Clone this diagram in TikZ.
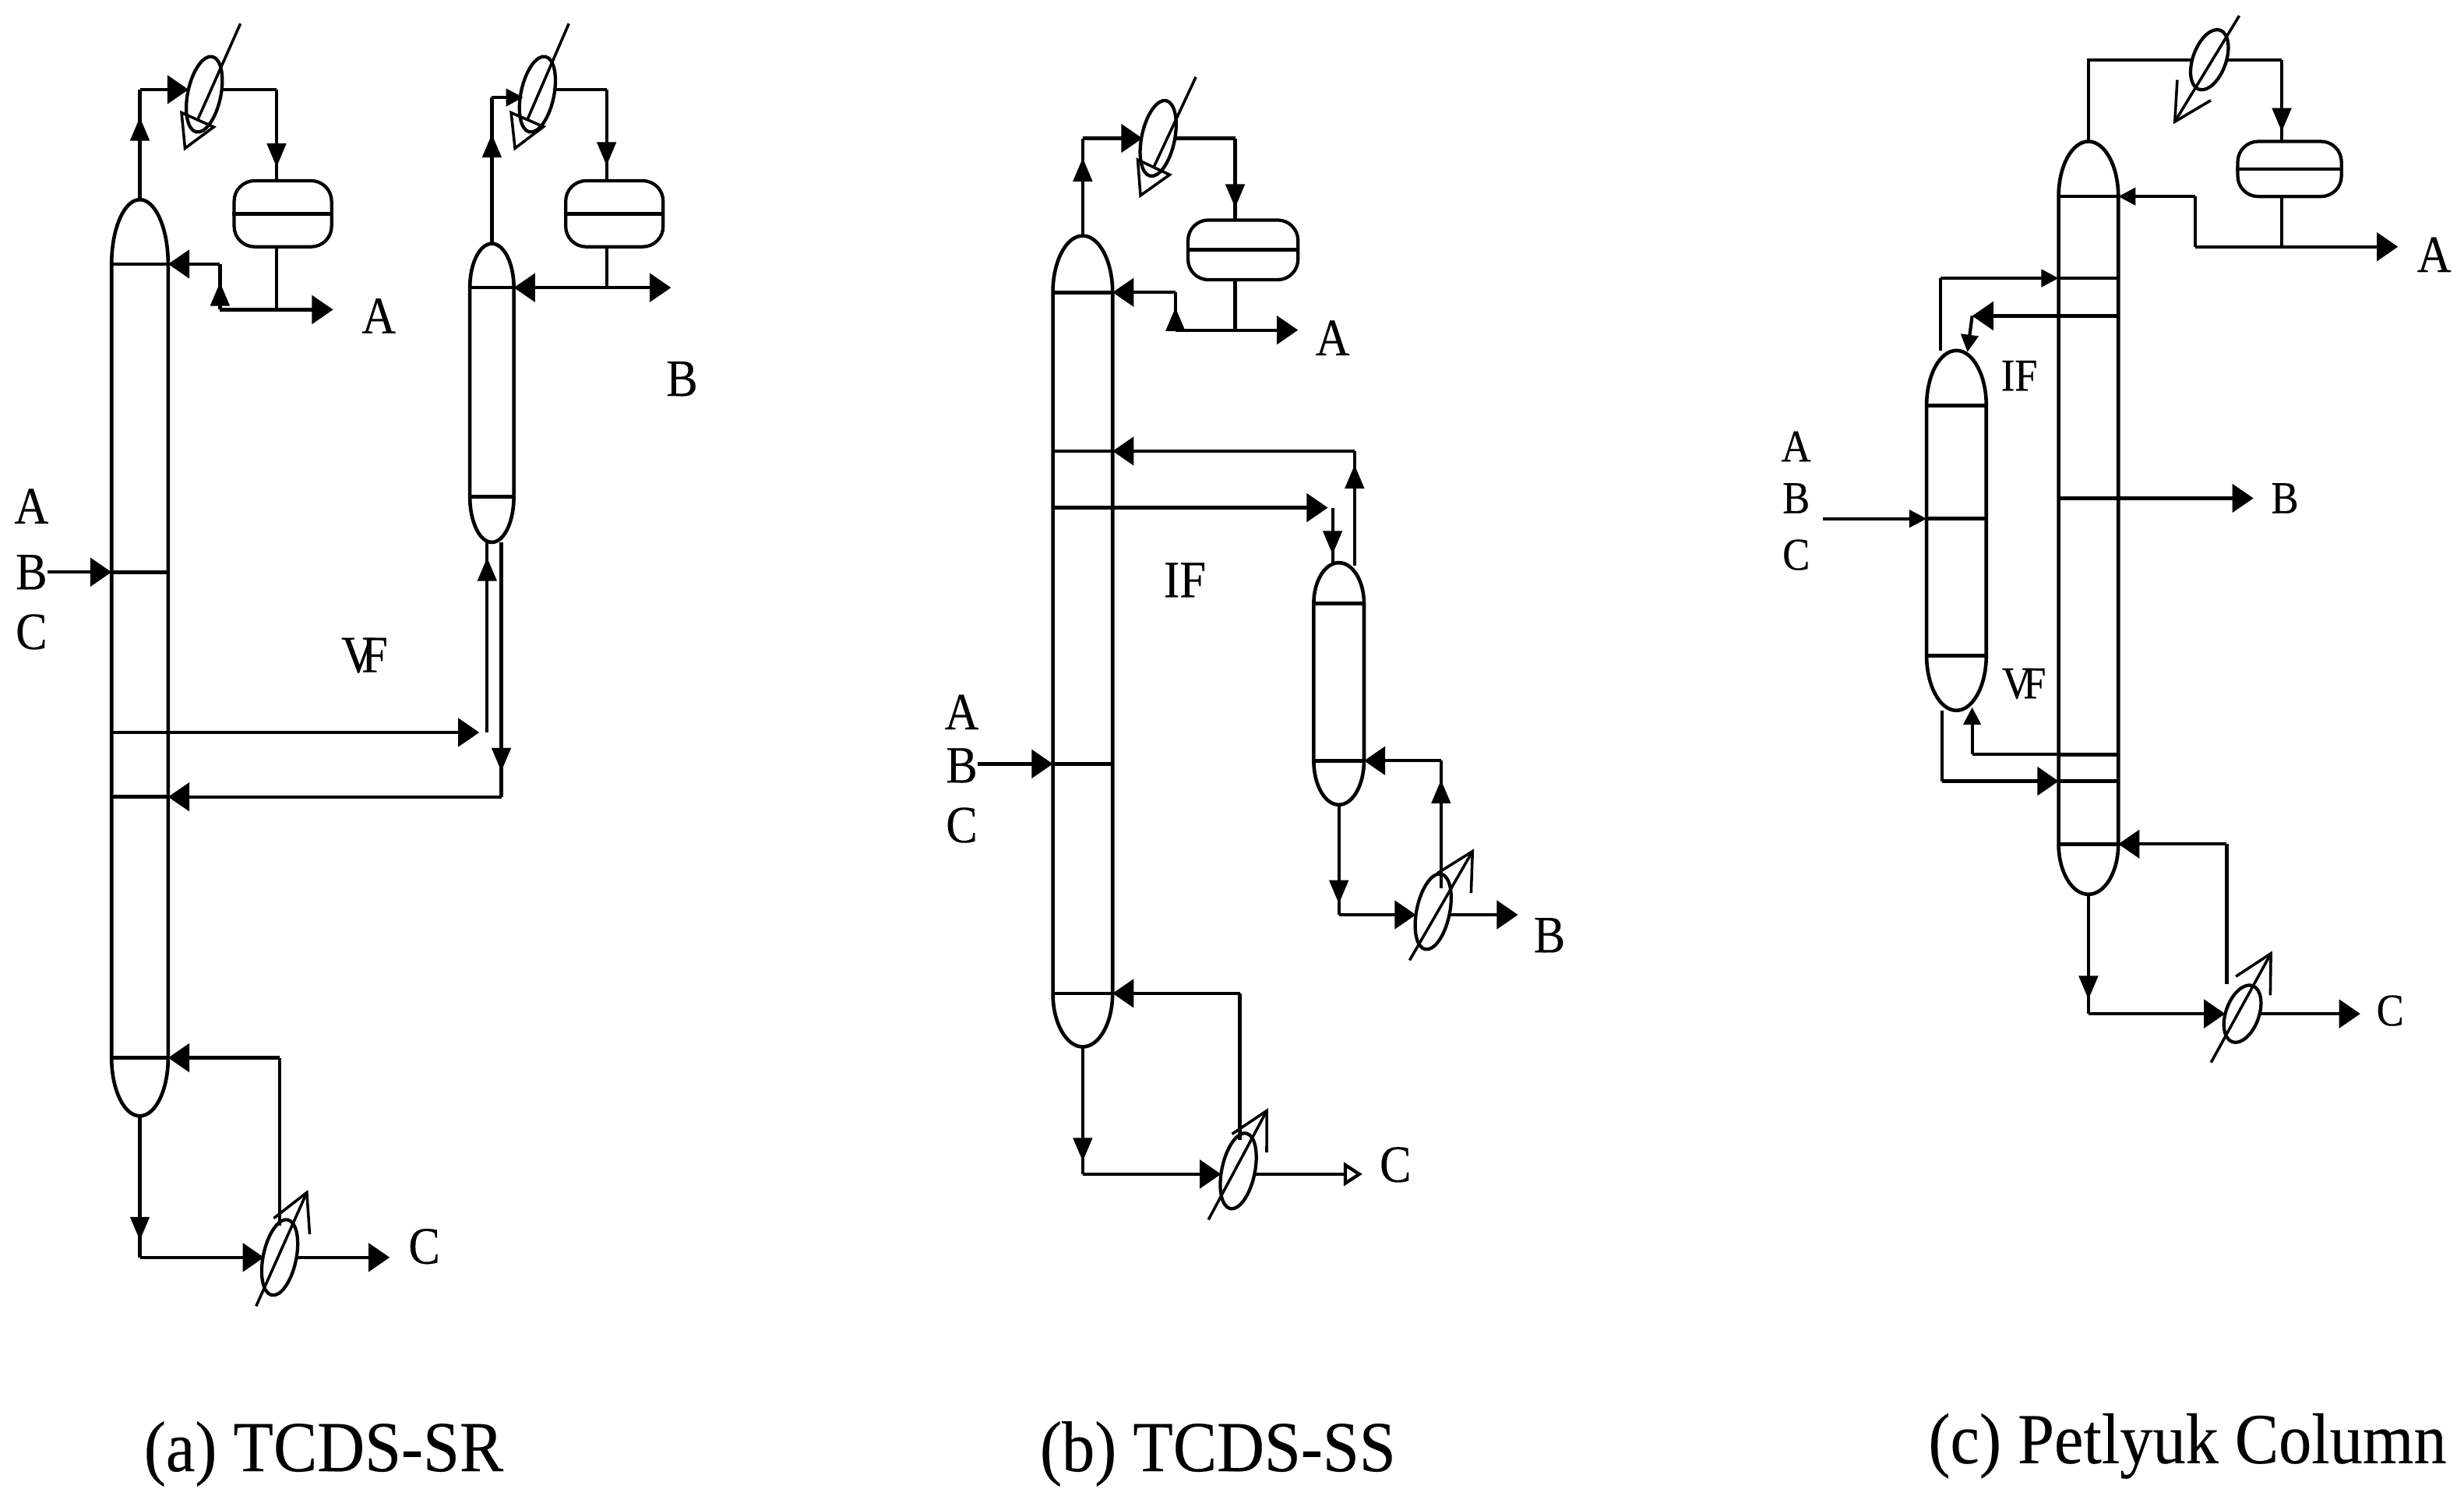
\documentclass[tikz,border=0pt]{standalone}
\usepackage{fontspec}
\setmainfont{Liberation Serif}
\newfontfamily\labfont[FakeStretch=0.9,FakeBold=0.25]{Liberation Serif}
\newfontfamily\capfont[FakeStretch=0.915,FakeBold=0.2]{Liberation Serif}
\usetikzlibrary{arrows.meta,decorations.markings,shapes.geometric}
\tikzset{
  pipe/.style={line width=1.2pt,line join=miter},
  flow/.style={pipe,-{Triangle[length=0.27cm,width=0.36cm]}},
  smallflow/.style={pipe,-{Triangle[length=0.22cm,width=0.22cm]}},
  midflow/.style={pipe,postaction={decorate},decoration={markings,mark=at position #1 with {\arrow{Triangle[length=0.3cm,width=0.24cm]}}}},
  vessel/.style={line width=1.3pt},
  tray/.style={line width=1.3pt},
  exch/.style={draw,ellipse,line width=1.2pt,minimum width=0.42cm,minimum height=0.98cm,inner sep=0pt,rotate=-12},
  drumbox/.style={draw,rectangle,rounded corners=0.26cm,line width=1.2pt,inner sep=0pt},
  slashin/.style={line width=1pt,-{Triangle[open,length=0.45cm,width=0.5cm,line width=1pt]}},
  slashup/.style={line width=1pt,-{Straight Barb[length=0.47cm,width=0.5cm,line width=1pt]}},
  lab/.style={font=\labfont\fontsize{19}{19}\selectfont,inner sep=0pt},
  labs/.style={font=\labfont\fontsize{16.5}{16.5}\selectfont,inner sep=0pt},
  captext/.style={font=\capfont\fontsize{26}{26}\selectfont,inner sep=0pt},
}
% column: name, cx, half width, top, top line, bottom line, bottom
\newcommand{\Col}[7]{%
  \pgfmathsetmacro\myleft{#2-#3}\pgfmathsetmacro\myright{#2+#3}%
  \pgfmathsetmacro\mytop{(#5-#4)*0.02}\pgfmathsetmacro\mybot{(#7-#6)*0.02}\pgfmathsetmacro\mywd{#3*0.02}%
  \coordinate (#1L) at (\myleft,#5);\coordinate (#1R) at (\myright,#5);
  \coordinate (#1t) at (#2,#4);\coordinate (#1b) at (#2,#7);
  \draw[vessel] (\myleft,#5) arc[start angle=180,end angle=0,x radius=\mywd cm,y radius=\mytop cm]
    -- (\myright,#6) arc[start angle=0,end angle=-180,x radius=\mywd cm,y radius=\mybot cm] -- cycle;
}
% tray: column, tag, y
\newcommand{\Tray}[3]{%
  \coordinate (#1#2L) at (#1L |- 0,#3);\coordinate (#1#2R) at (#1R |- 0,#3);
  \draw[tray] (#1#2L) -- (#1#2R);
}
% drum: name, x1, x2, y1, y2
\newcommand{\Drum}[5]{%
  \pgfmathsetmacro\mydw{(#3-#2)*0.02}\pgfmathsetmacro\mydh{(#5-#4)*0.02}%
  \node[drumbox,minimum width=\mydw cm,minimum height=\mydh cm] (#1) at ({(#2+#3)/2},{(#4+#5)/2}) {};
  \draw[tray] (#1.west) -- (#1.east);
}
\newcommand{\Pt}[3]{\coordinate (#1) at (#2,#3);}
\begin{document}
\begin{tikzpicture}[x=0.02cm,y=-0.02cm]
\useasboundingbox (0,0) rectangle (1568,947);
\fill[white] (0,0) rectangle (1568,947);

%% ---------------- (a) TCDS-SR
\Col{aa}{89}{18}{127}{168}{673}{710}
\Tray{aa}{top}{168}\Tray{aa}{feed}{364}\Tray{aa}{vs}{466}\Tray{aa}{lr}{507}\Tray{aa}{bot}{673}
\Col{ab}{313}{14}{155}{183}{316}{345}
\Tray{ab}{top}{183}\Tray{ab}{bot}{316}
\Drum{adr}{149}{211}{115}{157}
\Drum{bdr}{360}{422}{115}{157}
\node[exch] (acd) at (130,60) {};
\node[exch] (bcd) at (342,60) {};
\node[exch] (arb) at (178,800) {};
\Pt{a1}{89}{57}\Pt{a2}{120}{57}\Pt{a3}{141}{57}\Pt{a4}{176}{57}\Pt{a5}{176}{115}
\Pt{a6}{176}{157}\Pt{a7}{176}{197}\Pt{a8}{140}{197}\Pt{a9}{212}{197}\Pt{a10}{140}{168}
\Pt{as1}{153}{15}\Pt{as2}{117}{96}
\draw[midflow=0.75] (aat) -- (a1);
\draw[flow] (a1) -- (a2);
\draw[pipe] (a3) -- (a4);
\draw[midflow=0.85] (a4) -- (a5);
\draw[pipe] (a6) -- (a7);
\draw[flow] (a8) -- (a9);
\draw[midflow=0.6] (a8) -- (a10);
\draw[flow] (a10) -- (aatopR);
\draw[slashin] (as1) -- (as2);
\node[lab] (lA1) at (241,201) {A};
\Pt{b1}{313}{62}\Pt{b2}{333}{62}\Pt{b3}{352}{57}\Pt{b4}{386}{57}
\Pt{b6}{386}{157}\Pt{b7}{386}{183}\Pt{b9}{427}{183}
\Pt{bs1}{362}{15}\Pt{bs2}{327}{96}
\draw[midflow=0.75] (abt) -- (b1);
\draw[smallflow] (b1) -- (b2);
\draw[pipe] (b3) -- (b4);
\draw[midflow=0.85] (b4) -- (b4 |- bdr.north);
\draw[pipe] (b6) -- (b7);
\draw[flow] (b7) -- (abtopR);
\draw[flow] (b7) -- (b9);
\draw[slashin] (bs1) -- (bs2);
\node[lab] (lB1) at (434,241) {B};
\node[lab] (lFa) at (20,322) {A};
\node[lab] (lFb) at (20,364) {B};
\node[lab] (lFc) at (20,402) {C};
\draw[flow] (aafeedL -| lFb.east) -- (aafeedL);
\Pt{v1}{310}{466}\Pt{v2}{310}{345}\Pt{v3}{319}{345}\Pt{v4}{319}{507}
\draw[flow] (aavsR) -- (305,466);
\draw[midflow=0.92] (v1) -- (v2);
\draw[midflow=0.9] (v3) -- (v4);
\draw[flow] (v4) -- (aalrR);
\node[lab] (lVa) at (232,417) {V\kern-5pt F};
\Pt{r1}{178}{780}\Pt{r2}{178}{673}\Pt{r3}{89}{800}\Pt{r4}{168}{800}\Pt{r5}{188}{800}\Pt{r6}{248}{800}
\Pt{rs1}{163}{831}\Pt{rs2}{196}{757}
\draw[pipe] (r1) -- (r2);
\draw[flow] (r2) -- (aabotR);
\draw[midflow=0.88] (aab) -- (r3);
\draw[flow] (r3) -- (r4);
\draw[flow] (r5) -- (r6);
\draw[slashup] (rs1) -- (rs2);
\node[lab] (lCa) at (270,793) {C};
\node[captext] (capa) at (206,925) {(a) TCDS-SR};

%% ---------------- (b) TCDS-SS
\Col{ba}{689}{19}{150}{186}{632}{666}
\Tray{ba}{top}{186}\Tray{ba}{ret}{287}\Tray{ba}{sd}{323}\Tray{ba}{feed}{486}\Tray{ba}{bot}{632}
\Col{bb}{852}{16}{358}{384}{484}{512}
\Tray{bb}{top}{384}\Tray{bb}{bot}{484}
\Drum{cdr}{756}{826}{140}{178}
\node[exch] (ccd) at (737,88) {};
\node[exch] (crb) at (912,580) {};
\node[exch] (drb) at (788,745) {};
\Pt{c1}{689}{88}\Pt{c2}{727}{88}\Pt{c3}{748}{88}\Pt{c4}{786}{88}\Pt{c5}{786}{140}
\Pt{c6}{786}{178}\Pt{c7}{786}{210}\Pt{c8}{748}{210}\Pt{c9}{826}{210}\Pt{c10}{748}{186}
\Pt{cs1}{761}{49}\Pt{cs2}{725}{126}
\draw[midflow=0.8] (bat) -- (c1);
\draw[flow] (c1) -- (c2);
\draw[pipe] (c3) -- (c4);
\draw[midflow=0.85] (c4) -- (c5);
\draw[pipe] (c6) -- (c7);
\draw[flow] (c8) -- (c9);
\draw[midflow=0.6] (c8) -- (c10);
\draw[flow] (c10) -- (batopR);
\draw[slashin] (cs1) -- (cs2);
\node[lab] (lA2) at (848,215) {A};
\Pt{d1}{862}{360}\Pt{d2}{862}{287}\Pt{d3}{845}{323}\Pt{d4}{848}{323}
\draw[midflow=0.88] (d1) -- (d2);
\draw[flow] (d2) -- (baretR);
\draw[flow] (basdR) -- (d3);
\draw[midflow=0.85] (d4) -- (d4 |- bbt);
\node[lab] (lI2) at (754,369) {IF};
\node[lab] (lFa2) at (612,453) {A};
\node[lab] (lFb2) at (612,487) {B};
\node[lab] (lFc2) at (612,525) {C};
\draw[flow] (bafeedL -| lFb2.east) -- (bafeedL);
\Pt{e1}{917}{565}\Pt{e2}{917}{484}\Pt{e3}{852}{582}\Pt{e4}{901}{582}\Pt{e5}{923}{582}\Pt{e6}{966}{582}
\Pt{es1}{897}{611}\Pt{es2}{938}{540}
\draw[midflow=0.85] (e1) -- (e2);
\draw[flow] (e2) -- (bbbotR);
\draw[midflow=0.9] (bbb) -- (e3);
\draw[flow] (e3) -- (e4);
\draw[flow] (e5) -- (e6);
\draw[slashup] (es1) -- (es2);
\node[lab] (lB2) at (986,595) {B};
\Pt{f1}{789}{725}\Pt{f2}{789}{632}\Pt{f3}{689}{747}\Pt{f4}{777}{747}\Pt{f5}{799}{747}\Pt{f6}{867}{747}
\Pt{fs1}{769}{776}\Pt{fs2}{807}{705}
\draw[pipe] (f1) -- (f2);
\draw[flow] (f2) -- (babotR);
\draw[midflow=0.9] (bab) -- (f3);
\draw[flow] (f3) -- (f4);
\draw[pipe,-{Triangle[open,length=0.24cm,width=0.3cm]}] (f5) -- (f6);
\draw[slashup] (fs1) -- (fs2);
\node[lab] (lC2) at (888,741) {C};
\node[captext] (capb) at (775,925) {(b) TCDS-SS};

%% ---------------- (c) Petlyuk
\Col{ca}{1329}{19}{90}{125}{537}{569}
\Tray{ca}{top}{125}\Tray{ca}{va}{177}\Tray{ca}{li}{201}\Tray{ca}{side}{317}\Tray{ca}{lo}{480}\Tray{ca}{vu}{497}\Tray{ca}{bot}{537}
\Col{cb}{1245}{19}{223}{258}{417}{452}
\Tray{cb}{top}{258}\Tray{cb}{feed}{330}\Tray{cb}{bot}{417}
\Drum{ddr}{1424}{1490}{90}{125}
\node[exch,minimum height=0.8cm,minimum width=0.42cm,rotate=-8] (dcd) at (1406,38) {};
\node[exch,minimum height=0.76cm,minimum width=0.42cm,rotate=-8] (erb) at (1427,645) {};
\Pt{g1}{1329}{38}\Pt{g2}{1395}{38}\Pt{g3}{1417}{38}\Pt{g4}{1452}{38}\Pt{g5}{1452}{90}
\Pt{g6}{1452}{125}\Pt{g7}{1452}{157}\Pt{g8}{1397}{157}\Pt{g9}{1526}{157}\Pt{g10}{1397}{125}
\Pt{gs1}{1425}{10}\Pt{gs2}{1383}{79}
\draw[pipe] (cat) -- (g1) -- (g2);
\draw[pipe] (g3) -- (g4);
\draw[midflow=0.88] (g4) -- (g5);
\draw[pipe] (g6) -- (g7);
\draw[flow] (g8) -- (g9);
\draw[pipe] (g8) -- (g10);
\draw[smallflow] (g10) -- (catopR);
\draw[slashup] (gs1) -- (gs2);
\node[lab] (lA3) at (1549,162) {A};
\Pt{h1}{1235}{223}\Pt{h2}{1235}{177}\Pt{h3}{1255}{201}\Pt{h4}{1252}{224}
\draw[pipe] (h1) -- (h2);
\draw[smallflow] (h2) -- (cavaL);
\draw[flow] (caliR) -- (h3);
\draw[smallflow] (h3) -- (h4);
\node[labs] (lI3) at (1285,239) {IF};
\draw[flow] (casideR) -- (1434,317);
\node[labs] (lB3) at (1454,317) {B};
\node[labs] (lFa3) at (1143,284) {A};
\node[labs] (lFb3) at (1143,317) {B};
\node[labs] (lFc3) at (1143,353) {C};
\Pt{k1}{1160}{330}
\draw[smallflow] (k1) -- (cbfeedL);
\Pt{m1}{1255}{480}\Pt{m2}{1255}{450}\Pt{m3}{1236}{452}\Pt{m4}{1236}{497}
\node[labs] (lV3) at (1288,435) {V\kern-3pt F};
\draw[pipe] (caloR) -- (m1);
\draw[smallflow] (m1) -- (m2);
\draw[pipe] (m3) -- (m4);
\draw[flow] (m4) -- (cavuL);
\Pt{n1}{1417}{626}\Pt{n2}{1417}{537}\Pt{n3}{1329}{645}\Pt{n4}{1416}{645}\Pt{n5}{1438}{645}\Pt{n6}{1502}{645}
\Pt{ns1}{1407}{676}\Pt{ns2}{1446}{605}
\draw[pipe] (n1) -- (n2);
\draw[flow] (n2) -- (cabotR);
\draw[midflow=0.88] (cab) -- (n3);
\draw[flow] (n3) -- (n4);
\draw[flow] (n5) -- (n6);
\draw[slashup] (ns1) -- (ns2);
\node[labs] (lC3) at (1521,643) {C};
\node[captext] (capc) at (1392,920) {(c) Petlyuk Column};
\end{tikzpicture}
\end{document}
